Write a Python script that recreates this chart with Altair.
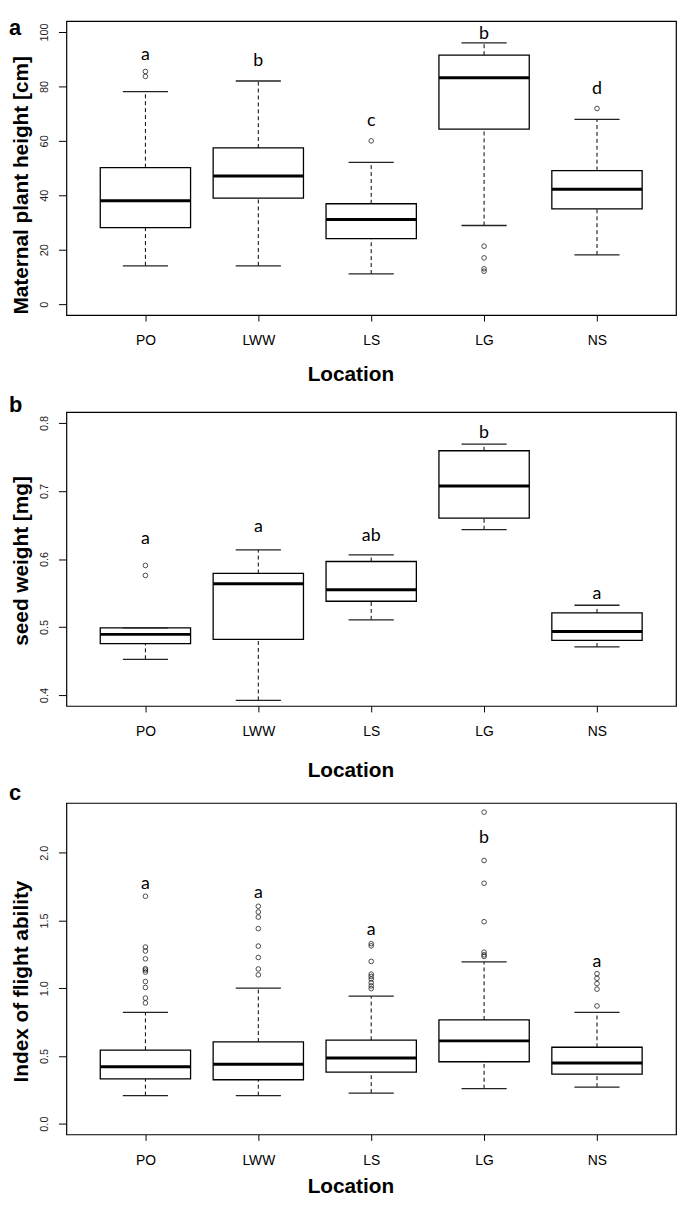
import altair as alt
import pandas as pd

FONT = "Liberation Sans"
LETTER_FONT = "Lato"

locations = ["PO", "LWW", "LS", "LG", "NS"]

# ---- panel a: maternal plant height [cm]
height_whislo = [14.1, 14.1, 11.1, 28.9, 18.1]
height_q1 = [28.1, 39.0, 24.1, 64.3, 35.0]
height_median = [38.0, 47.1, 31.1, 83.2, 42.2]
height_q3 = [50.2, 57.4, 36.9, 91.5, 49.1]
height_whishi = [78.1, 82.0, 52.1, 96.0, 67.9]
height_out_loc = ["PO", "PO", "LS", "LG", "LG", "LG", "LG", "NS"]
height_out_val = [85.5, 83.7, 60.0, 21.3, 17.0, 13.0, 12.1, 71.9]
height_letters = ["a", "b", "c", "b", "d"]
height_letter_y = [91.7, 89.3, 67.3, 99.3, 79.0]
height_ticks = [0, 20, 40, 60, 80, 100]

# ---- panel b: seed weight [mg]
seed_whislo = [0.4526, 0.3922, 0.5106, 0.6431, 0.4707]
seed_q1 = [0.4755, 0.4818, 0.5379, 0.6602, 0.4804]
seed_median = [0.4892, 0.5637, 0.5549, 0.7074, 0.4935]
seed_q3 = [0.4989, 0.5788, 0.5963, 0.7591, 0.5208]
seed_whishi = [0.4989, 0.6134, 0.6061, 0.7688, 0.5320]
seed_out_loc = ["PO", "PO"]
seed_out_val = [0.5905, 0.5759]
seed_letters = ["a", "a", "ab", "b", "a"]
seed_letter_y = [0.6295, 0.6465, 0.6343, 0.7854, 0.549]
seed_ticks = [0.4, 0.5, 0.6, 0.7, 0.8]

# ---- panel c: index of flight ability
flight_whislo = [0.207, 0.207, 0.226, 0.258, 0.270]
flight_q1 = [0.331, 0.324, 0.380, 0.457, 0.365]
flight_median = [0.420, 0.438, 0.484, 0.611, 0.448]
flight_q3 = [0.543, 0.603, 0.616, 0.766, 0.564]
flight_whishi = [0.822, 1.000, 0.942, 1.195, 0.822]
flight_out_loc = (["PO"] * 11 + ["LWW"] * 8 + ["LS"] * 9 + ["LG"] * 7 + ["NS"] * 5)
flight_out_val = [1.679, 1.304, 1.275, 1.217, 1.144, 1.134, 1.119, 1.049, 1.005, 0.927, 0.891,
                  1.605, 1.563, 1.525, 1.440, 1.311, 1.227, 1.142, 1.099,
                  1.329, 1.313, 1.198, 1.104, 1.087, 1.068, 1.041, 1.017, 0.997,
                  2.300, 1.943, 1.775, 1.491, 1.266, 1.247, 1.235,
                  1.107, 1.073, 1.034, 0.993, 0.869]
flight_letters = ["a", "a", "a", "b", "a"]
flight_letter_y = [1.771, 1.703, 1.431, 2.107, 1.193]
flight_ticks = [0.0, 0.5, 1.0, 1.5, 2.0]

label_expr = "[" + ",".join("'%s'" % l for l in locations) + "][datum.value - 1]"
xscale = alt.Scale(domain=[0.3, 5.7], nice=False, zero=False)


def make_panel(whislo, q1, med, q3, whishi, out_loc, out_val, letters, letter_y,
               ydomain, yticks, yfmt, ytitle, ytitle_y, plabel, plabel_y, xtitle_y, h):
    idx = list(range(1, len(locations) + 1))
    box = pd.DataFrame({"loc": locations, "idx": idx, "lo": whislo, "q1": q1,
                        "med": med, "q3": q3, "hi": whishi,
                        "letter": letters, "ly": letter_y})
    outl = pd.DataFrame({"loc": out_loc, "val": out_val})
    outl["idx"] = [locations.index(l) + 1 for l in out_loc]

    xaxis = alt.Axis(values=idx, labelExpr=label_expr, title="Location", grid=False,
                     domain=False, tickSize=6, tickColor="black", tickWidth=1,
                     labelFontSize=14, labelFont=FONT, labelColor="black",
                     labelPadding=24, labelBaseline="alphabetic", labelFlush=False,
                     labelOverlap=False, titleFont=FONT, titleFontSize=21,
                     titleFontWeight="bold", titleColor="black", titleX=287,
                     titleY=xtitle_y, titleBaseline="alphabetic", titleAlign="center")
    yscale = alt.Scale(domain=ydomain, nice=False, zero=False)
    yaxis = alt.Axis(values=yticks, format=yfmt, title=ytitle, grid=False, domain=False,
                     tickSize=8, tickColor="black", tickWidth=1, labelAngle=270,
                     labelAlign="center", labelBaseline="alphabetic", labelPadding=11.5,
                     labelFontSize=11, labelFont=FONT, labelColor="#222",
                     labelFlush=False, labelOverlap=False,
                     titleFont=FONT, titleFontSize=21, titleFontWeight="bold",
                     titleColor="black", titleAngle=270, titleX=-39.5, titleY=ytitle_y,
                     titleAlign="center", titleBaseline="alphabetic")

    def X(f):
        return alt.X(f, type="quantitative", scale=xscale, axis=xaxis)

    def Y(f):
        return alt.Y(f, type="quantitative", scale=yscale, axis=yaxis)

    base = alt.Chart(box).transform_calculate(
        xl="datum.idx - 0.4", xr="datum.idx + 0.4",
        cl="datum.idx - 0.2", cr="datum.idx + 0.2")

    upper = base.mark_rule(strokeDash=[4, 3], color="black", strokeWidth=1).encode(
        x=X("idx"), y=Y("q3"), y2="hi")
    lower = base.mark_rule(strokeDash=[4, 3], color="black", strokeWidth=1).encode(
        x=X("idx"), y=Y("lo"), y2="q1")
    rect = base.mark_rect(fill="white", stroke="black", strokeWidth=1.3).encode(
        x=X("xl"), x2="xr", y=Y("q1"), y2="q3")
    medl = base.mark_rule(color="black", strokeWidth=3).encode(
        x=X("xl"), x2="xr", y=Y("med"))
    cap_hi = base.mark_rule(color="#222", strokeWidth=1.3).encode(
        x=X("cl"), x2="cr", y=Y("hi"))
    cap_lo = base.mark_rule(color="#222", strokeWidth=1.3).encode(
        x=X("cl"), x2="cr", y=Y("lo"))
    pts = alt.Chart(outl).mark_point(shape="circle", filled=False, color="black",
                                     size=22, strokeWidth=1).encode(
        x=X("idx"), y=Y("val"))
    txt = base.mark_text(font=LETTER_FONT, fontSize=18, baseline="middle",
                         color="black").encode(x=X("idx"), y=Y("ly"), text="letter:N")
    lab = alt.Chart(pd.DataFrame({"p": [plabel]})).mark_text(
        font=FONT, fontSize=22, fontWeight="bold", align="left",
        baseline="alphabetic", color="black").encode(
        x=alt.value(-58), y=alt.value(plabel_y), text="p:N")
    return alt.layer(upper, lower, rect, medl, cap_hi, cap_lo, pts, txt, lab).properties(
        width=616, height=h)


pa = make_panel(height_whislo, height_q1, height_median, height_q3, height_whishi,
                height_out_loc, height_out_val, height_letters, height_letter_y,
                [-4, 104], height_ticks, "d", "Maternal plant height [cm]", 165.5,
                "a", 14, 66, 297)
pb = make_panel(seed_whislo, seed_q1, seed_median, seed_q3, seed_whishi,
                seed_out_loc, seed_out_val, seed_letters, seed_letter_y,
                [0.384, 0.816], seed_ticks, ".1f", "seed weight [mg]", 150,
                "b", 0, 71, 297)
pc = make_panel(flight_whislo, flight_q1, flight_median, flight_q3, flight_whishi,
                flight_out_loc, flight_out_val, flight_letters, flight_letter_y,
                [-0.08, 2.368], flight_ticks, ".1f", "Index of flight ability", 180,
                "c", -3, 59, 335)

chart = alt.vconcat(pa, pb, pc, spacing=98, bounds="flush").properties(
    padding={"left": 0, "top": 2, "right": 0, "bottom": 0},
    background="white",
).configure_view(stroke="black", strokeWidth=1.2)

chart.save("out.html", embed_options={"renderer": "svg", "actions": False})
